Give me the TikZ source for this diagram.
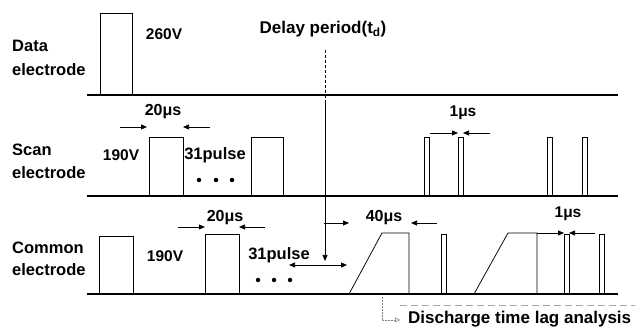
\documentclass[tikz,border=0pt]{standalone}
\usepackage{fontspec}
\setmainfont{Liberation Sans}
\usetikzlibrary{arrows.meta}
\begin{document}
\begin{tikzpicture}[x=1pt,y=-1pt,
  baseln/.style={line width=1.4pt},
  pulse/.style={line width=0.75pt},
  lbl/.style={font=\fontsize{16.5}{18}\selectfont\bfseries, anchor=west, inner sep=0pt},
  val/.style={font=\fontsize{15.5}{17}\selectfont\bfseries, inner sep=0pt},
  arr/.style={-{Triangle[length=6pt,width=5pt]}, line width=0.75pt},
  dotm/.style={circle, fill, inner sep=0pt, minimum size=4.5pt}]
\useasboundingbox (0,0) rectangle (635,331);

% ---------- labels ----------
\node[lbl] (dataA) at (12,46) {Data};
\node[lbl] (dataB) at (12,70) {electrode};
\node[lbl] (scanA) at (12,150) {Scan};
\node[lbl] (scanB) at (12,173) {electrode};
\node[lbl] (comA) at (12,248) {Common};
\node[lbl] (comB) at (12,270) {electrode};

% ---------- baselines ----------
\draw[baseln] (87,95) -- (618,95);
\draw[baseln] (87,196) -- (618,196);
\draw[baseln] (87,294) -- (618,294);

% ---------- data electrode ----------
\draw[pulse] (100,95) |- (132,13) -- (132,95);
\node[val] (v260) at (164,34) {260V};

% ---------- scan electrode ----------
\draw[pulse] (149,196) |- (183,137) -- (183,196);
\draw[pulse] (251,196) |- (283,137) -- (283,196);
\draw[pulse] (424,196) |- (429,137) -- (429,196);
\draw[pulse] (458,196) |- (463,137) -- (463,196);
\draw[pulse] (547,196) |- (552,137) -- (552,196);
\draw[pulse] (582,196) |- (587,137) -- (587,196);
\node[val, font=\fontsize{16}{17}\selectfont\bfseries] (s20) at (163,112) {20μs};
\coordinate (s20a) at (120,127); \coordinate (s20b) at (147,127);
\coordinate (s20c) at (210,127); \coordinate (s20d) at (183,127);
\draw[arr] (s20a) -- (s20b);
\draw[arr] (s20c) -- (s20d);
\node[val] (s190) at (121,155) {190V};
\node[val, font=\fontsize{16.5}{17}\selectfont\bfseries] (s31) at (215,155) {31pulse};
\node[dotm] (sd1) at (199,180) {};
\node[dotm] (sd2) at (216,180) {};
\node[dotm] (sd3) at (232,180) {};
\node[val] (s1) at (463,113) {1μs};
\coordinate (s1a) at (430,133); \coordinate (s1b) at (458,133);
\coordinate (s1c) at (490,133); \coordinate (s1d) at (463,133);
\draw[arr] (s1a) -- (s1b);
\draw[arr] (s1c) -- (s1d);

% ---------- common electrode ----------
\draw[pulse] (99,294) |- (133,236) -- (133,294);
\draw[pulse] (205,294) |- (239,234) -- (239,294);
\draw[pulse] (349,294) -- (382,233) -- (409,233) -- (409,294);
\draw[pulse] (441,294) |- (446,234) -- (446,294);
\draw[pulse] (474,294) -- (508,233) -- (537,233) -- (537,294);
\draw[pulse] (564,294) |- (569,234) -- (569,294);
\draw[pulse] (599,294) |- (604,234) -- (604,294);
\node[val] (c190) at (165,256) {190V};
\node[val, font=\fontsize{16}{17}\selectfont\bfseries] (c20) at (225,218) {20μs};
\coordinate (c20a) at (178,227); \coordinate (c20b) at (205,227);
\coordinate (c20c) at (265,227); \coordinate (c20d) at (239,227);
\draw[arr] (c20a) -- (c20b);
\draw[arr] (c20c) -- (c20d);
\node[val, font=\fontsize{16.5}{17}\selectfont\bfseries] (c31) at (279,255) {31pulse};
\node[dotm] (cd1) at (258,280) {};
\node[dotm] (cd2) at (274,280) {};
\node[dotm] (cd3) at (290,280) {};
\node[val, font=\fontsize{16}{17}\selectfont\bfseries] (c40) at (384,218) {40μs};
\coordinate (c40a) at (324,223); \coordinate (c40b) at (349,223);
\coordinate (c40c) at (437,223); \coordinate (c40d) at (411,223);
\draw[arr] (c40a) -- (c40b);
\draw[arr] (c40c) -- (c40d);
\coordinate (tdL) at (289,265); \coordinate (tdR) at (347,265);
\draw[{Triangle[length=6pt,width=5pt]}-{Triangle[length=6pt,width=5pt]}, line width=0.75pt] (tdL) -- (tdR);
\node[val] (c1) at (568,214) {1μs};
\coordinate (c1a) at (537,233); \coordinate (c1b) at (564,233);
\coordinate (c1c) at (595,233); \coordinate (c1d) at (569,233);
\draw[arr] (c1a) -- (c1b);
\draw[arr] (c1c) -- (c1d);

% ---------- delay period ----------
\node[font=\fontsize{17}{18}\selectfont\bfseries, inner sep=0pt] (delay) at (323,29) {Delay period(t\textsubscript{d})};
\coordinate (dl0) at (325,50); \coordinate (dl1) at (325,100); \coordinate (dl2) at (325,261);
\draw[line width=0.5pt, densely dashed] (dl0) -- (dl1);
\draw[arr] (dl1) -- (dl2);

% ---------- discharge time lag ----------
\coordinate (g0) at (400,305); \coordinate (g1) at (635,305);
\draw[gray!70, line width=0.7pt, dash pattern=on 7pt off 4pt] (g0) -- (g1);
\coordinate (h0) at (382,297); \coordinate (h1) at (382,320); \coordinate (h2) at (400,320);
\draw[gray, line width=0.5pt, densely dotted, -{Triangle[open,length=5pt,width=5pt]}] (h0) -- (h1) -- (h2);
\node[font=\fontsize{17}{20}\selectfont\bfseries, anchor=west, inner sep=0pt] (dtla) at (408,319) {Discharge time lag analysis};
\end{tikzpicture}
\end{document}
